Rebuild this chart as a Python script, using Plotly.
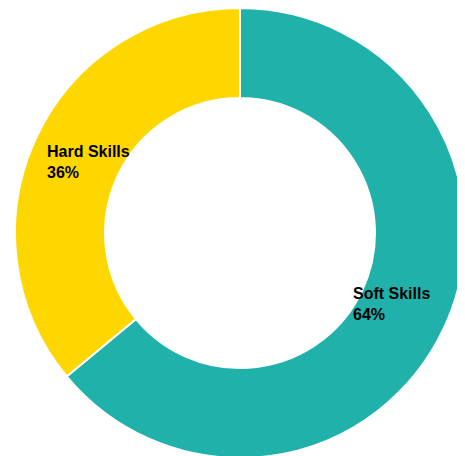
import math
import plotly.graph_objects as go

labels = ["Soft Skills", "Hard Skills"]
values = [64, 36]
colors = ["#20B2AA", "#FFD700"]

HOLE = 0.6
LABEL_R = 0.371  # label distance from center, in units of pie diameter

fig = go.Figure(go.Pie(
    labels=labels,
    values=values,
    hole=HOLE,
    sort=False,
    direction="clockwise",
    rotation=0,
    marker=dict(colors=colors, line=dict(color="white", width=2)),
    textinfo="none",
    showlegend=False,
    hoverinfo="label+percent",
))

total = sum(values)
cum = 0
annotations = []
for lab, v in zip(labels, values):
    mid = (cum + v / 2) / total * 2 * math.pi
    cum += v
    annotations.append(dict(
        x=0.5 + LABEL_R * math.sin(mid),
        y=0.5 + LABEL_R * math.cos(mid),
        xref="paper", yref="paper",
        xanchor="center", yanchor="middle",
        text=f"<b>{lab}</b><br><b>{round(v / total * 100)}%</b>",
        align="left",
        showarrow=False,
        font=dict(family="Liberation Sans, Arial, sans-serif", size=16, color="black"),
    ))

fig.update_layout(
    width=457, height=450,
    margin=dict(l=7, r=0, t=0, b=0),
    paper_bgcolor="white",
    plot_bgcolor="white",
    annotations=annotations,
)
fig.write_html(
    "out.html",
    post_script="document.documentElement.style.overflow='hidden';document.body.style.overflow='hidden';",
)
